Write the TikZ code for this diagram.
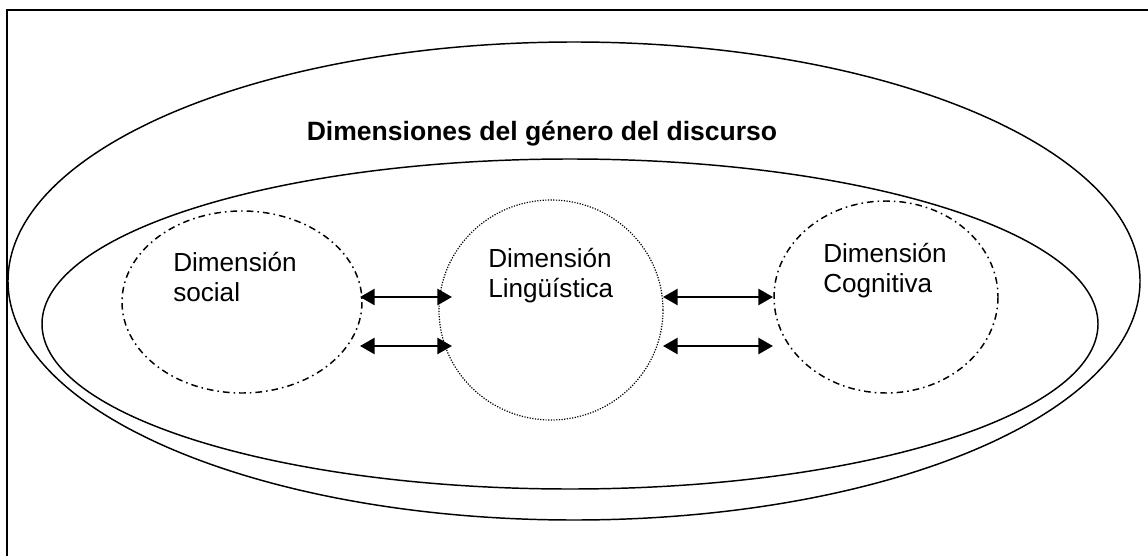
\documentclass[tikz,border=0pt]{standalone}
\usepackage{fontspec}
\setmainfont{Liberation Sans}
\usetikzlibrary{arrows.meta}

\tikzset{
  dimlabel/.style={anchor=base west, inner sep=0pt, align=left, font=\fontsize{19.6}{22.5}\selectfont},
  dimarrow/.style={{Triangle[length=11pt,width=12pt]}-{Triangle[length=11pt,width=12pt]}, line width=2pt},
  dashdotline/.style={line width=1.1pt, dash pattern=on 5pt off 3pt on 1.2pt off 3pt},
  dotline/.style={line width=0.9pt, dash pattern=on 0.9pt off 1.1pt}
}

\begin{document}
\begin{tikzpicture}[x=0.75pt,y=0.75pt,yscale=-1,xscale=1]
		\clip (0,0) rectangle (1148,556);
		
		%frame, only top and left edge inside the page
		\draw  [line width=2pt]  (7,10) rectangle (1160,570) ;
		
		%outer and inner ellipse
		\draw  [line width=1.1pt]  (574, 281) circle [x radius= 566, y radius= 239]  ;
		\draw  [line width=1.1pt]  (570, 324) circle [x radius= 528, y radius= 165]  ;
		
		%the three dimensions
		\draw  [dashdotline]  (242, 302) circle [x radius= 120, y radius= 91]  ;
		\draw  [dotline]  (551, 310) circle [x radius= 112, y radius= 110]  ;
		\draw  [dashdotline]  (886, 297) circle [x radius= 112, y radius= 96]  ;
		
		\node (titulo) at (542,141) [anchor=base, inner sep=0pt, font=\fontsize{19.9}{22.5}\selectfont\bfseries] {Dimensiones del género del discurso};
		%base anchor sits on the second line
		\node (social) at (173,301) [dimlabel] {Dimensión\\social};
		\node (ling) at (488,297) [dimlabel] {Dimensión\\Lingüística};
		\node (cogn) at (823,292) [dimlabel] {Dimensión\\Cognitiva};
		
		%arrow ends
		\coordinate (sa) at (360,297);
		\coordinate (sb) at (360,346);
		\coordinate (la) at (452,297);
		\coordinate (lb) at (452,346);
		\coordinate (lc) at (663,297);
		\coordinate (ld) at (663,346);
		\coordinate (ca) at (773,297);
		\coordinate (cb) at (773,346);
		
		\draw [dimarrow]  (sa) -- (la) ;
		\draw [dimarrow]  (sb) -- (lb) ;
		\draw [dimarrow]  (lc) -- (ca) ;
		\draw [dimarrow]  (ld) -- (cb) ;
		
\end{tikzpicture}
\end{document}
